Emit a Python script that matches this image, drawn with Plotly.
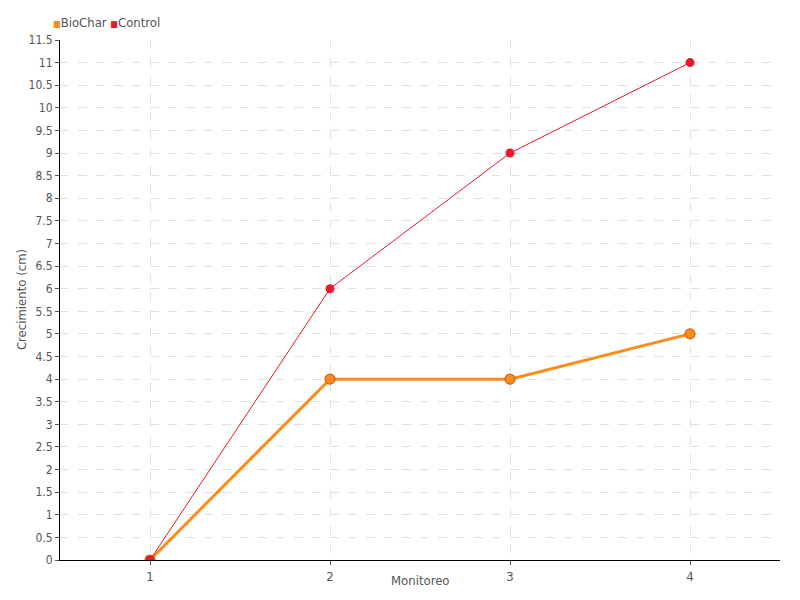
import plotly.graph_objects as go

monitoreo = [1, 2, 3, 4]
biochar = [0, 4, 4, 5]
control = [0, 6, 9, 11]
y_ticks = [i * 0.5 for i in range(24)]
series_names = ["BioChar", "Control"]

FONT = "DejaVu Sans Condensed, Liberation Sans Narrow, sans-serif"
ORANGE = "#ff8c1a"
RED = "#e8192c"
TEXT = "#555555"

fig = go.Figure()

fig.add_trace(go.Scatter(
    x=monitoreo, y=biochar, mode="lines+markers", name=series_names[0],
    line=dict(color=ORANGE, width=3),
    marker=dict(size=10, color=ORANGE, line=dict(color="#c8661a", width=1.2)),
))
fig.add_trace(go.Scatter(
    x=monitoreo, y=control, mode="lines+markers", name=series_names[1],
    line=dict(color=RED, width=1),
    marker=dict(size=9, color=RED),
))

# compact legend: small square + label, like the original
legend_html = " ".join(
    f"<span style='color:{c};font-size:9px'>■</span>{n}"
    for c, n in zip([ORANGE, RED], series_names)
)
fig.add_annotation(
    text=legend_html, xref="paper", yref="paper", x=-0.013, y=1.0,
    xanchor="left", yanchor="bottom", yshift=8, showarrow=False,
    font=dict(size=13, color=TEXT),
)

# axis titles placed as in the original
fig.add_annotation(
    text="Crecimiento (cm)", xref="paper", yref="paper", x=-0.054, y=0.5,
    xanchor="center", yanchor="middle", textangle=-90, showarrow=False,
    font=dict(size=13, color=TEXT),
)
fig.add_annotation(
    text="Monitoreo", xref="paper", yref="paper", x=0.5, y=-0.039,
    xanchor="center", yanchor="middle", showarrow=False,
    font=dict(size=13, color=TEXT),
)

# the page body adds an 8px offset, so the figure is sized 792x592
fig.update_layout(
    width=792, height=592,
    margin=dict(l=52, r=20, t=32, b=40),
    paper_bgcolor="white", plot_bgcolor="white",
    font=dict(family=FONT, size=13, color=TEXT),
    showlegend=False,
    xaxis=dict(
        range=[0.5, 4.5], tickvals=monitoreo, ticktext=[str(m) for m in monitoreo],
        showline=True, linecolor="black", linewidth=1,
        ticks="outside", ticklen=4, tickcolor=TEXT,
        showgrid=True, gridcolor="#e0e0e0", griddash="dash", zeroline=False,
        automargin=False,
    ),
    yaxis=dict(
        range=[0, 11.5], tickvals=y_ticks,
        ticktext=[f"{v:g}" for v in y_ticks], tickfont=dict(size=12),
        showline=True, linecolor="black", linewidth=1,
        ticks="outside", ticklen=4, tickcolor=TEXT,
        showgrid=True, gridcolor="#e0e0e0", griddash="dash", zeroline=False,
        automargin=False,
    ),
)

fig.write_html("out.html")
